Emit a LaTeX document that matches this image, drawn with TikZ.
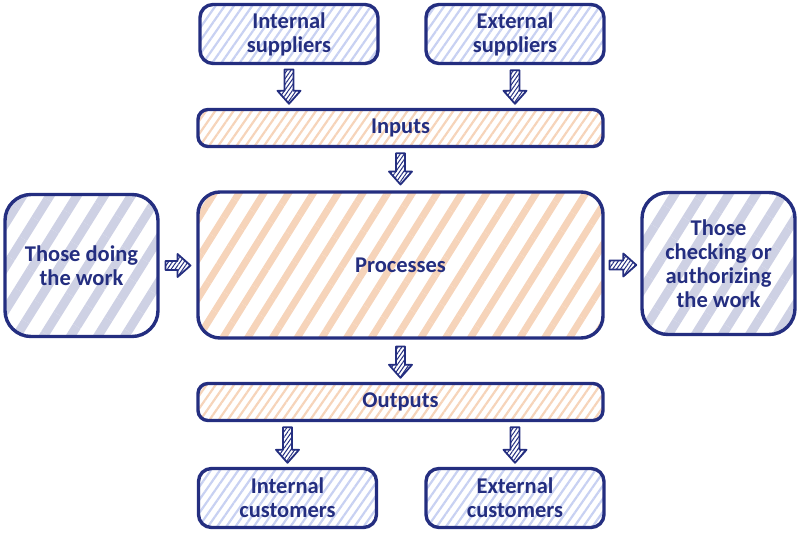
\documentclass[tikz,border=0pt]{standalone}
\usepackage{fontspec}
\setmainfont{Carlito}
\usetikzlibrary{calc,patterns.meta}
\definecolor{navy}{RGB}{36,46,128}
\definecolor{lineblue}{RGB}{200,209,242}
\definecolor{lineorange}{RGB}{246,212,186}
\definecolor{linegray}{RGB}{206,209,228}
% hollow block arrows between two points
\newcommand\downarrowto[2]{%
  \path[fatarrow] let \p1=#1, \p2=#2 in
    (\x1-4.5,\y1) -- (\x1+4.5,\y1) -- (\x1+4.5,\y2+13) -- (\x1+11.5,\y2+13)
    -- (\x1,\y2) -- (\x1-11.5,\y2+13) -- (\x1-4.5,\y2+13) -- cycle;}
\newcommand\rightarrowto[2]{%
  \path[fatarrow] let \p1=#1, \p2=#2 in
    (\x1,\y1+4.5) -- (\x1,\y1-4.5) -- (\x2-13,\y1-4.5) -- (\x2-13,\y1-11.5)
    -- (\x2,\y1) -- (\x2-13,\y1+11.5) -- (\x2-13,\y1+4.5) -- cycle;}
\tikzset{
  box/.style={draw=navy, line width=3.4pt, text=navy, align=center, inner sep=0pt,
    font=\bfseries\fontsize{22.5}{24}\selectfont},
  smallbox/.style={box, minimum width=178pt, minimum height=59pt, rounded corners=13pt,
    pattern={Lines[angle=55,distance=7.5pt,line width=2.2pt]}, pattern color=lineblue},
  barbox/.style={box, minimum width=405pt, minimum height=37pt, rounded corners=10pt,
    pattern={Lines[angle=55,distance=7.5pt,line width=2.2pt]}, pattern color=lineorange},
  bigbox/.style={box, minimum width=405pt, minimum height=146pt, rounded corners=22pt,
    pattern={Lines[angle=58,distance=21pt,line width=7pt]}, pattern color=lineorange},
  sidebox/.style={box, minimum width=153pt, minimum height=142pt, rounded corners=26pt,
    pattern={Lines[angle=58,distance=23pt,line width=9pt]}, pattern color=linegray},
  fatarrow/.style={draw=navy, line width=1.8pt, line join=round,
    pattern={Lines[angle=55,distance=3.2pt,line width=1pt]}, pattern color=navy}
}
\begin{document}
\begin{tikzpicture}[x=1pt,y=1pt]
  \useasboundingbox (0,0) rectangle (800,536);
  %%% boxes
  \node[smallbox] (isup) at (289,502) {Internal\\suppliers};
  \node[smallbox] (esup) at (515,502) {External\\suppliers};
  \node[barbox] (inp) at (400.5,408) {Inputs};
  \node[sidebox] (doer) at (81.5,270.5) {Those doing\\the work};
  \node[bigbox] (proc) at (400.5,271) {Processes};
  \node[sidebox] (chk) at (718.5,272.5) {Those\\checking or\\authorizing\\the work};
  \node[barbox] (outp) at (400.5,134) {Outputs};
  \node[smallbox] (icus) at (287.5,38) {Internal\\customers};
  \node[smallbox] (ecus) at (515,38) {External\\customers};
  %%% arrows
  \downarrowto{($(isup.south)+(0,-5)$)}{($(isup.south |- inp.north)+(0,4)$)}
  \downarrowto{($(esup.south)+(0,-5)$)}{($(esup.south |- inp.north)+(0,4)$)}
  \downarrowto{($(inp.south)+(0,-5)$)}{($(proc.north)+(0,4)$)}
  \downarrowto{($(proc.south)+(0,-5)$)}{($(outp.north)+(0,4)$)}
  \downarrowto{($(outp.south -| icus.north)+(0,-5)$)}{($(icus.north)+(0,4)$)}
  \downarrowto{($(outp.south -| ecus.north)+(0,-5)$)}{($(ecus.north)+(0,4)$)}
  \rightarrowto{($(doer.east)+(3,0)$)}{($(doer.east -| proc.west)+(-4,0)$)}
  \rightarrowto{($(proc.east)+(3,0)$)}{($(proc.east -| chk.west)+(-4,0)$)}
\end{tikzpicture}
\end{document}
